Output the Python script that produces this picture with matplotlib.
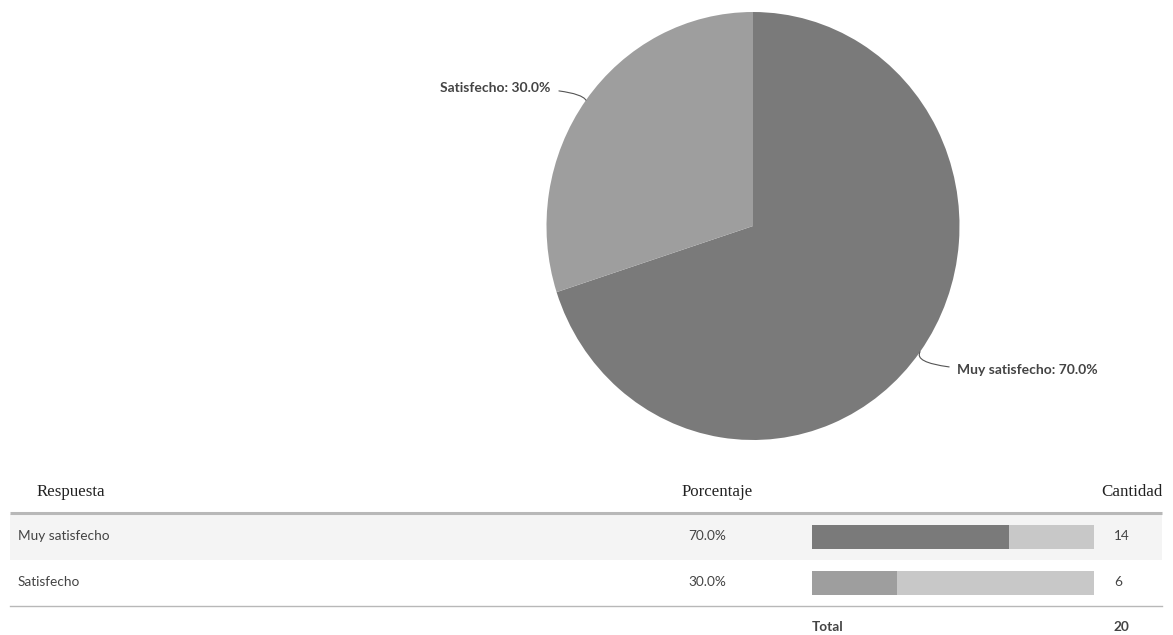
import matplotlib
matplotlib.use("Agg")
import matplotlib.pyplot as plt
from matplotlib.patches import Rectangle
import numpy as np

categories = ["Muy satisfecho", "Satisfecho"]
counts = [14, 6]
pie_colors = ["#7a7a7a", "#9e9e9e"]
track_color = "#c8c8c8"
headers = ["Respuesta", "Porcentaje", "Cantidad"]

total = sum(counts)
pcts = [c / total * 100 for c in counts]

W, H = 1173, 635
fig = plt.figure(figsize=(W / 100, H / 100), dpi=100)
fig.patch.set_facecolor("white")

def fr(x, y, w, h):
    return [x / W, 1 - (y + h) / H, w / W, h / H]

# ---------- table layer (pixel coords) ----------
tab = fig.add_axes([0, 0, 1, 1])
tab.set_xlim(0, W)
tab.set_ylim(H, 0)
tab.axis("off")

sans = "Lato"
serif = "Liberation Serif"
txt_col = "#444444"
hdr_fs = 12.2

tab.text(37, 492, headers[0], family=serif, fontsize=hdr_fs, color="#222222", va="center", ha="left")
tab.text(717, 492, headers[1], family=serif, fontsize=hdr_fs, color="#222222", va="center", ha="center")
tab.text(1163, 492, headers[2], family=serif, fontsize=hdr_fs, color="#222222", va="center", ha="right")

tab.add_patch(Rectangle((10, 514), 1152, 46, facecolor="#f4f4f4", edgecolor="none"))
tab.plot([10, 1162], [513, 513], color="#b8b8b8", lw=2.2, solid_capstyle="butt")
tab.plot([10, 1162], [606, 606], color="#b8b8b8", lw=1.0)

row_y = [536, 582]
for i, (cat, p, c) in enumerate(zip(categories, pcts, counts)):
    tab.text(18, row_y[i], cat, family=sans, fontsize=9.8, color=txt_col, va="center", ha="left")
    tab.text(707, row_y[i], f"{p:.1f}%", family=sans, fontsize=9.8, color=txt_col, va="center", ha="center")
    tab.text(1114, row_y[i], str(c), family=sans, fontsize=9.8, color=txt_col, va="center", ha="left")

tab.text(812, 627, "Total", family=sans, fontsize=9.8, fontweight="bold", color=txt_col, va="center", ha="left")
tab.text(1113, 627, str(total), family=sans, fontsize=9.8, fontweight="bold", color=txt_col, va="center", ha="left")

# ---------- bars ----------
bax = fig.add_axes(fr(812, 514, 282, 92))
bax.set_xlim(0, total)
bax.set_ylim(1.51, -0.51)
ypos = np.arange(len(categories))
bax.barh(ypos, [total] * len(counts), height=0.52, color=track_color, edgecolor="none")
bax.barh(ypos, counts, height=0.52, color=pie_colors, edgecolor="none")
bax.axis("off")

# ---------- pie ----------
pax = fig.add_axes(fr(753 - 206.5, 226 - 214, 413, 428))
wedges, _ = pax.pie(counts, colors=pie_colors, startangle=90, counterclock=False,
                    wedgeprops=dict(edgecolor="none"))
pax.set_aspect("auto")
pax.set_xlim(-1, 1)
pax.set_ylim(-1, 1)

label_pos = [(0.99, -0.675), (-0.98, 0.645)]
for i, w in enumerate(wedges):
    ang = np.deg2rad((w.theta1 + w.theta2) / 2)
    ex, ey = np.cos(ang), np.sin(ang)
    tx, ty = label_pos[i]
    ha = "left" if tx > 0 else "right"
    pax.annotate(f"{categories[i]}: {pcts[i]:.1f}%", xy=(ex, ey), xytext=(tx, ty),
                 ha=ha, va="center", family=sans, fontsize=10, fontweight="bold",
                 color=txt_col, annotation_clip=False,
                 arrowprops=dict(arrowstyle="-", color="#555555", lw=0.8,
                                 shrinkA=4, shrinkB=0,
                                 connectionstyle="angle3,angleA=0,angleB=%d" % (60 if tx > 0 else -60)))

fig.savefig("out.png", dpi=100, facecolor="white")
